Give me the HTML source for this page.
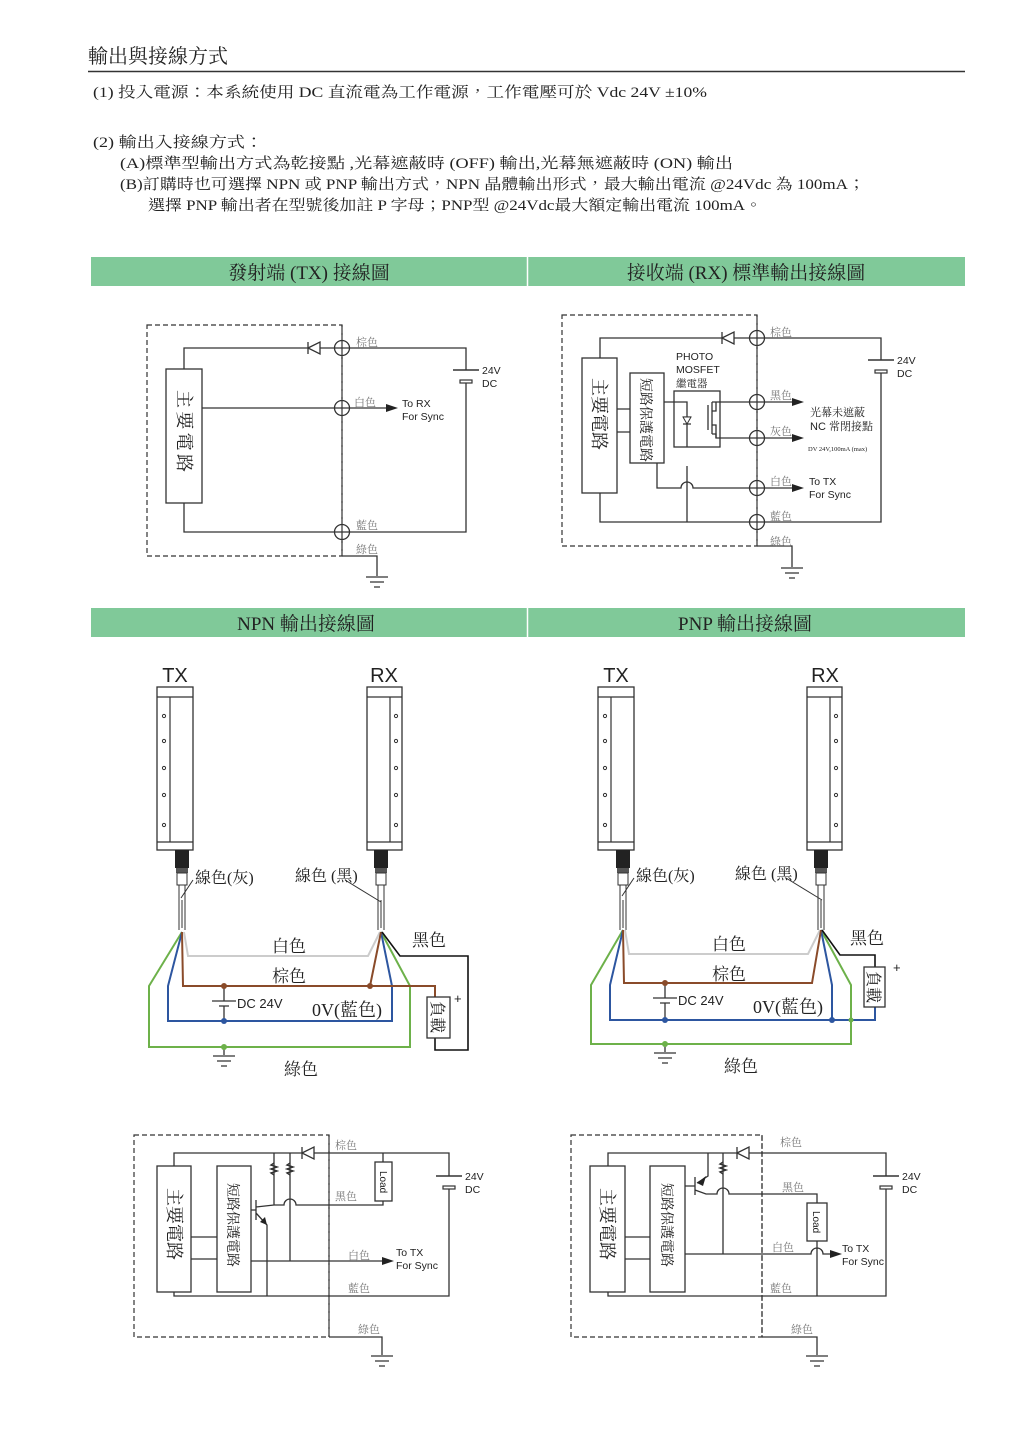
<!DOCTYPE html>
<html><head><meta charset="utf-8"><style>
html,body{margin:0;padding:0;background:#fff;}
svg{display:block;}
.s{font-family:"Liberation Serif","Noto Serif CJK TC","Noto Serif CJK SC",serif;fill:#222;}
.a{font-family:"Liberation Sans","Noto Sans CJK TC",sans-serif;fill:#222;}
.g{fill:#777;font-family:"Liberation Serif","Noto Serif CJK TC","Noto Serif CJK SC",serif;font-size:11px;}
.w{stroke:#333;stroke-width:1.3;fill:none;}
.d{stroke:#333;stroke-width:1.2;fill:none;stroke-dasharray:5,3;}
</style></head><body>
<svg width="1024" height="1448" viewBox="0 0 1024 1448" xmlns="http://www.w3.org/2000/svg">
<defs>
<g id="cp"><circle r="7.5" fill="#fff" stroke="#333" stroke-width="1.3"/><path d="M-7.5 0H7.5M0 -7.5V7.5" stroke="#333" stroke-width="1.2"/></g>
<g id="gnd"><path d="M-11 0H11M-7 5H7M-3 10H3" stroke="#333" stroke-width="1.3"/></g>
<g id="dl"><path d="M0 -6V6" stroke="#333" stroke-width="1.3"/><polygon points="0,0 12,-6 12,6" fill="#fff" stroke="#333" stroke-width="1.3"/></g>
<g id="arr"><polygon points="0,-4 12,0 0,4" fill="#222"/></g>
<g id="bat"><path d="M-13 0H13" stroke="#333" stroke-width="1.5"/><rect x="-6" y="10" width="12" height="3" fill="#fff" stroke="#333" stroke-width="1.2"/></g>
<g id="txb">
<rect x="157" y="687" width="36" height="163" fill="#fff" stroke="#333" stroke-width="1.3"/>
<path d="M157 697H193M157 842H193M170 697V842" stroke="#333" stroke-width="1.2"/>
<circle cx="164" cy="716" r="1.6" fill="none" stroke="#333"/><circle cx="164" cy="741" r="1.6" fill="none" stroke="#333"/>
<circle cx="164" cy="768" r="1.6" fill="none" stroke="#333"/><circle cx="164" cy="795" r="1.6" fill="none" stroke="#333"/>
<circle cx="164" cy="825" r="1.6" fill="none" stroke="#333"/>
</g>
<g id="rxb">
<rect x="367" y="687" width="35" height="163" fill="#fff" stroke="#333" stroke-width="1.3"/>
<path d="M367 697H402M367 842H402M390 697V842" stroke="#333" stroke-width="1.2"/>
<circle cx="396" cy="716" r="1.6" fill="none" stroke="#333"/><circle cx="396" cy="741" r="1.6" fill="none" stroke="#333"/>
<circle cx="396" cy="768" r="1.6" fill="none" stroke="#333"/><circle cx="396" cy="795" r="1.6" fill="none" stroke="#333"/>
<circle cx="396" cy="825" r="1.6" fill="none" stroke="#333"/>
</g>
<g id="cab">
<rect x="175" y="850" width="14" height="18" fill="#222"/>
<rect x="176" y="868" width="12" height="5" fill="#555"/>
<rect x="177" y="873" width="10" height="12" fill="#fff" stroke="#333"/>
<path d="M179 885V930M185 885V930M182 900V928" stroke="#333" stroke-width="1"/>
</g>
</defs>

<!-- header text -->
<text class="s" x="88" y="63" font-size="20">輸出與接線方式</text>
<line x1="88" y1="71.5" x2="965" y2="71.5" stroke="#333" stroke-width="1.5"/>
<text class="s" x="93" y="97" font-size="15" textLength="614" lengthAdjust="spacingAndGlyphs">(1) 投入電源：本系統使用 DC 直流電為工作電源，工作電壓可於 Vdc 24V ±10%</text>
<text class="s" x="93" y="147" font-size="15" textLength="170" lengthAdjust="spacingAndGlyphs">(2) 輸出入接線方式：</text>
<text class="s" x="120" y="168" font-size="15" textLength="613" lengthAdjust="spacingAndGlyphs">(A)標準型輸出方式為乾接點 ,光幕遮蔽時 (OFF) 輸出,光幕無遮蔽時 (ON) 輸出</text>
<text class="s" x="120" y="189" font-size="15" textLength="745" lengthAdjust="spacingAndGlyphs">(B)訂購時也可選擇 NPN 或 PNP 輸出方式，NPN 晶體輸出形式，最大輸出電流 @24Vdc 為 100mA；</text>
<text class="s" x="148" y="210" font-size="15" textLength="614" lengthAdjust="spacingAndGlyphs">選擇 PNP 輸出者在型號後加註 P 字母；PNP型 @24Vdc最大額定輸出電流 100mA。</text>

<!-- green bars -->
<rect x="91" y="257" width="874" height="29" fill="#80c999"/>
<line x1="527.5" y1="257" x2="527.5" y2="286" stroke="#fff" stroke-width="1.5"/>
<text class="s" x="309" y="279" font-size="19" text-anchor="middle">發射端 (TX) 接線圖</text>
<text class="s" x="746" y="279" font-size="19" text-anchor="middle">接收端 (RX) 標準輸出接線圖</text>
<rect x="91" y="608" width="874" height="29" fill="#80c999"/>
<line x1="527.5" y1="608" x2="527.5" y2="637" stroke="#fff" stroke-width="1.5"/>
<text class="s" x="306" y="630" font-size="19" text-anchor="middle">NPN 輸出接線圖</text>
<text class="s" x="745" y="630" font-size="19" text-anchor="middle">PNP 輸出接線圖</text>

<!-- TX wiring -->
<rect class="d" x="147" y="325" width="195" height="231"/>
<line class="d" x1="342" y1="325" x2="342" y2="556"/>
<rect class="w" x="166" y="369" width="36" height="134"/>
<text class="s" font-size="18" fill="#444" transform="translate(178,390) rotate(90)" textLength="82">主要電路</text>
<path class="w" d="M184 369V348H466V370M466 381V532H184V503M202 408H392"/>
<use href="#dl" x="308" y="348"/>
<use href="#bat" x="466" y="370"/>
<use href="#arr" x="386" y="408"/>
<use href="#cp" x="342" y="348"/><use href="#cp" x="342" y="408"/><use href="#cp" x="342" y="532"/>
<path class="w" d="M342 556H377V576"/><use href="#gnd" x="377" y="577"/>
<text class="g" x="356" y="346">棕色</text><text class="g" x="354" y="406">白色</text>
<text class="g" x="356" y="529">藍色</text><text class="g" x="356" y="553">綠色</text>
<text class="a" x="402" y="407" font-size="10.5">To RX</text><text class="a" x="402" y="420" font-size="10.5">For Sync</text>
<text class="a" x="482" y="374" font-size="10.5">24V</text><text class="a" x="482" y="387" font-size="10.5">DC</text>

<!-- RX wiring -->
<rect class="d" x="562" y="315" width="195" height="231"/>
<line class="d" x1="757" y1="315" x2="757" y2="546"/>
<rect class="w" x="582" y="358" width="35" height="135"/>
<text class="s" font-size="18" fill="#444" transform="translate(593,378) rotate(90)">主要電路</text>
<rect class="w" x="630" y="373" width="34" height="90"/>
<text class="s" font-size="14" fill="#444" transform="translate(641,378) rotate(90)">短路保護電路</text>
<rect class="w" x="674" y="391" width="46" height="56"/>
<text class="a" x="676" y="360" font-size="10.5">PHOTO</text><text class="a" x="676" y="373" font-size="10.5">MOSFET</text>
<text class="s" x="676" y="387" font-size="10.5" fill="#555">繼電器</text>
<path class="w" d="M600 358V338H881V360M881 371V522H600V493M617 409H630M617 432H630"/>
<use href="#dl" x="722" y="338"/><use href="#bat" x="881" y="360"/>
<path class="w" d="M664 402H687V447M687 466V522"/>
<path class="w" d="M683 417H691 M683 424H691 M708 405V430 M712 402V434M712 402H795 M712 434H716V438H795"/>
<polygon points="683,417 691,417 687,424" fill="#fff" stroke="#333" stroke-width="1"/>
<path class="w" d="M712 411H716V402M712 425H716V438"/>
<path class="w" d="M657 463V488H681A6 6 0 0 1 693 488H795"/>
<use href="#arr" x="792" y="402"/><use href="#arr" x="792" y="438"/><use href="#arr" x="792" y="488"/>
<use href="#cp" x="757" y="338"/><use href="#cp" x="757" y="402"/><use href="#cp" x="757" y="438"/><use href="#cp" x="757" y="488"/><use href="#cp" x="757" y="522"/>
<path class="w" d="M757 546H792V567"/><use href="#gnd" x="792" y="568"/>
<text class="g" x="770" y="336">棕色</text><text class="g" x="770" y="399">黑色</text><text class="g" x="770" y="435">灰色</text>
<text class="g" x="770" y="485">白色</text><text class="g" x="770" y="520">藍色</text><text class="g" x="770" y="545">綠色</text>
<text class="s" x="810" y="416" font-size="11" fill="#444">光幕未遮蔽</text>
<text class="a" x="810" y="430" font-size="11">NC <tspan class="s">常閉接點</tspan></text>
<text class="s" x="808" y="451" font-size="6.5" fill="#666">DV 24V,100mA (max)</text>
<text class="a" x="809" y="485" font-size="10.5">To TX</text><text class="a" x="809" y="498" font-size="10.5">For Sync</text>
<text class="a" x="897" y="364" font-size="10.5">24V</text><text class="a" x="897" y="377" font-size="10.5">DC</text>

<!-- device bars -->
<use href="#txb"/><use href="#cab"/>
<use href="#rxb"/><use href="#cab" x="199"/>
<text class="a" x="175" y="682" font-size="20" text-anchor="middle">TX</text>
<text class="a" x="384" y="682" font-size="20" text-anchor="middle">RX</text>
<use href="#txb" x="441"/><use href="#cab" x="441"/>
<use href="#rxb" x="440"/><use href="#cab" x="639"/>
<text class="a" x="616" y="682" font-size="20" text-anchor="middle">TX</text>
<text class="a" x="825" y="682" font-size="20" text-anchor="middle">RX</text>

<!-- NPN wires -->
<path d="M182 932L149 986V1047H410V986L381 932" stroke="#6db14a" stroke-width="2" fill="none"/>
<path d="M182 932L168 986V1021H392V986L381 932" stroke="#2d56a0" stroke-width="2" fill="none"/>
<path d="M184 932L188 956H368L380 932" stroke="#ccc" stroke-width="2" fill="none"/>
<path d="M182 932L183 986H435V997M370 986L381 932" stroke="#8a4b2a" stroke-width="2" fill="none"/>
<path d="M382 932L400 956H468V1050H435V1038" stroke="#111" stroke-width="1.6" fill="none"/>
<rect x="427" y="997" width="23" height="41" fill="#fff" stroke="#333" stroke-width="1.3"/>
<text class="s" font-size="16" transform="translate(432,1001) rotate(90)">負載</text>
<path d="M224 986V1001M212 1001H236M219 1006H229M224 1006V1021M224 1047V1055" stroke="#333" stroke-width="1.3"/>
<use href="#gnd" x="224" y="1056"/>
<circle cx="224" cy="986" r="3" fill="#8a4b2a"/><circle cx="370" cy="986" r="3" fill="#8a4b2a"/>
<circle cx="224" cy="1021" r="3" fill="#2d56a0"/><circle cx="224" cy="1047" r="3" fill="#6db14a"/>
<path d="M193 880L181 898M345 880L381 902" stroke="#333" stroke-width="1"/>
<text class="s" x="195" y="883" font-size="16" fill="#444">線色(灰)</text>
<text class="s" x="295" y="881" font-size="16" fill="#444">線色 (黑)</text>
<text class="s" x="272" y="952" font-size="17" fill="#444">白色</text>
<text class="s" x="272" y="982" font-size="17" fill="#444">棕色</text>
<text class="s" x="412" y="946" font-size="17" fill="#444">黑色</text>
<text class="a" x="237" y="1008" font-size="13">DC 24V</text>
<text class="s" x="312" y="1016" font-size="18">0V(藍色)</text>
<text class="s" x="284" y="1075" font-size="17" fill="#444">綠色</text>
<text class="a" x="454" y="1003" font-size="13">+</text>

<!-- PNP wires -->
<path d="M623 930L591 985V1044H851V985L821 930" stroke="#6db14a" stroke-width="2" fill="none"/>
<path d="M623 930L610 985V1020H875V1007M832 1020V985L821 930" stroke="#2d56a0" stroke-width="2" fill="none"/>
<path d="M625 930L629 954H808L820 930" stroke="#ccc" stroke-width="2" fill="none"/>
<path d="M623 930L624 983H812L821 930" stroke="#8a4b2a" stroke-width="2" fill="none"/>
<path d="M822 930L840 955H875V967" stroke="#111" stroke-width="1.6" fill="none"/>
<rect x="864" y="967" width="21" height="40" fill="#fff" stroke="#333" stroke-width="1.3"/>
<text class="s" font-size="16" transform="translate(868,971) rotate(90)">負載</text>
<path d="M665 983V998M653 998H677M660 1003H670M665 1003V1020M665 1044V1052" stroke="#333" stroke-width="1.3"/>
<use href="#gnd" x="665" y="1053"/>
<circle cx="665" cy="983" r="3" fill="#8a4b2a"/><circle cx="665" cy="1020" r="3" fill="#2d56a0"/>
<circle cx="832" cy="1020" r="3" fill="#2d56a0"/><circle cx="851" cy="1020" r="2.5" fill="#6db14a"/>
<circle cx="665" cy="1044" r="3" fill="#6db14a"/>
<path d="M634 878L622 896M786 878L822 900" stroke="#333" stroke-width="1"/>
<text class="s" x="636" y="881" font-size="16" fill="#444">線色(灰)</text>
<text class="s" x="735" y="879" font-size="16" fill="#444">線色 (黑)</text>
<text class="s" x="712" y="950" font-size="17" fill="#444">白色</text>
<text class="s" x="712" y="980" font-size="17" fill="#444">棕色</text>
<text class="s" x="850" y="944" font-size="17" fill="#444">黑色</text>
<text class="a" x="678" y="1005" font-size="13">DC 24V</text>
<text class="s" x="753" y="1013" font-size="18">0V(藍色)</text>
<text class="s" x="724" y="1072" font-size="17" fill="#444">綠色</text>
<text class="a" x="893" y="972" font-size="13">+</text>

<!-- NPN schematic -->
<rect class="d" x="134" y="1135" width="195" height="202"/>
<line class="d" x1="329" y1="1135" x2="329" y2="1337"/>
<rect class="w" x="157" y="1166" width="34" height="126"/>
<text class="s" font-size="18" fill="#444" transform="translate(168,1188) rotate(90)">主要電路</text>
<rect class="w" x="217" y="1166" width="34" height="126"/>
<text class="s" font-size="14" fill="#444" transform="translate(228,1183) rotate(90)">短路保護電路</text>
<path class="w" d="M174 1166V1153H449V1176M449 1187V1296H174V1292M191 1237H217M191 1259H217"/>
<path class="w" d="M383 1153V1162M383 1201V1205H296A6 6 0 0 0 284 1205H274V1153M290 1153V1261M251 1261H390M251 1210H256M256 1200V1220M256 1207L274 1205M256 1213L267 1225V1296"/>
<path class="w" d="M274 1163l-3 2l6 2l-6 2l6 2l-6 2l3 2M290 1163l-3 2l6 2l-6 2l6 2l-6 2l3 2" stroke="#fff" stroke-width="3"/>
<path class="w" d="M274 1163l-3 2l6 2l-6 2l6 2l-6 2l3 2M290 1163l-3 2l6 2l-6 2l6 2l-6 2l3 2"/>
<polygon points="267,1225 260,1222 265,1217" fill="#222"/>
<rect x="375" y="1162" width="17" height="39" fill="#fff" stroke="#333" stroke-width="1.3"/>
<text class="a" font-size="10" transform="translate(380,1171) rotate(90)">Load</text>
<use href="#dl" x="302" y="1153"/><use href="#bat" x="449" y="1176"/><use href="#arr" x="382" y="1261"/>
<path class="w" d="M329 1337H382V1355"/><use href="#gnd" x="382" y="1356"/>
<text class="g" x="335" y="1149">棕色</text><text class="g" x="335" y="1200">黑色</text>
<text class="g" x="348" y="1259">白色</text><text class="g" x="348" y="1292">藍色</text><text class="g" x="358" y="1333">綠色</text>
<text class="a" x="396" y="1256" font-size="10.5">To TX</text><text class="a" x="396" y="1269" font-size="10.5">For Sync</text>
<text class="a" x="465" y="1180" font-size="10.5">24V</text><text class="a" x="465" y="1193" font-size="10.5">DC</text>

<!-- PNP schematic -->
<rect class="d" x="571" y="1135" width="191" height="202"/>
<line class="d" x1="762" y1="1135" x2="762" y2="1337"/>
<rect class="w" x="590" y="1166" width="35" height="126"/>
<text class="s" font-size="18" fill="#444" transform="translate(601,1188) rotate(90)">主要電路</text>
<rect class="w" x="650" y="1166" width="35" height="126"/>
<text class="s" font-size="14" fill="#444" transform="translate(662,1183) rotate(90)">短路保護電路</text>
<path class="w" d="M608 1166V1153H886V1176M886 1187V1296H608V1292M625 1237H650M625 1259H650"/>
<path class="w" d="M708 1153V1176L697 1183M685 1186H695M695 1177V1195M695 1190L706 1194H717A6 6 0 0 1 729 1194H817V1203M723 1153V1254M685 1254H811A6 6 0 0 1 823 1254H838M817 1241V1296"/>
<path class="w" d="M723 1162l-3 2l6 2l-6 2l6 2l-6 2l3 2" stroke="#fff" stroke-width="3"/>
<path class="w" d="M723 1162l-3 2l6 2l-6 2l6 2l-6 2l3 2"/>
<polygon points="697,1183 706,1176 703,1186" fill="#222"/>
<rect x="807" y="1203" width="20" height="38" fill="#fff" stroke="#333" stroke-width="1.3"/>
<text class="a" font-size="10" transform="translate(813,1211) rotate(90)">Load</text>
<use href="#dl" x="737" y="1153"/><use href="#bat" x="886" y="1176"/><use href="#arr" x="830" y="1254"/>
<path class="w" d="M762 1337H817V1355"/><use href="#gnd" x="817" y="1356"/>
<text class="g" x="780" y="1146">棕色</text><text class="g" x="782" y="1191">黑色</text>
<text class="g" x="772" y="1251">白色</text><text class="g" x="770" y="1292">藍色</text><text class="g" x="791" y="1333">綠色</text>
<text class="a" x="842" y="1252" font-size="10.5">To TX</text><text class="a" x="842" y="1265" font-size="10.5">For Sync</text>
<text class="a" x="902" y="1180" font-size="10.5">24V</text><text class="a" x="902" y="1193" font-size="10.5">DC</text>
</svg>
</body></html>
